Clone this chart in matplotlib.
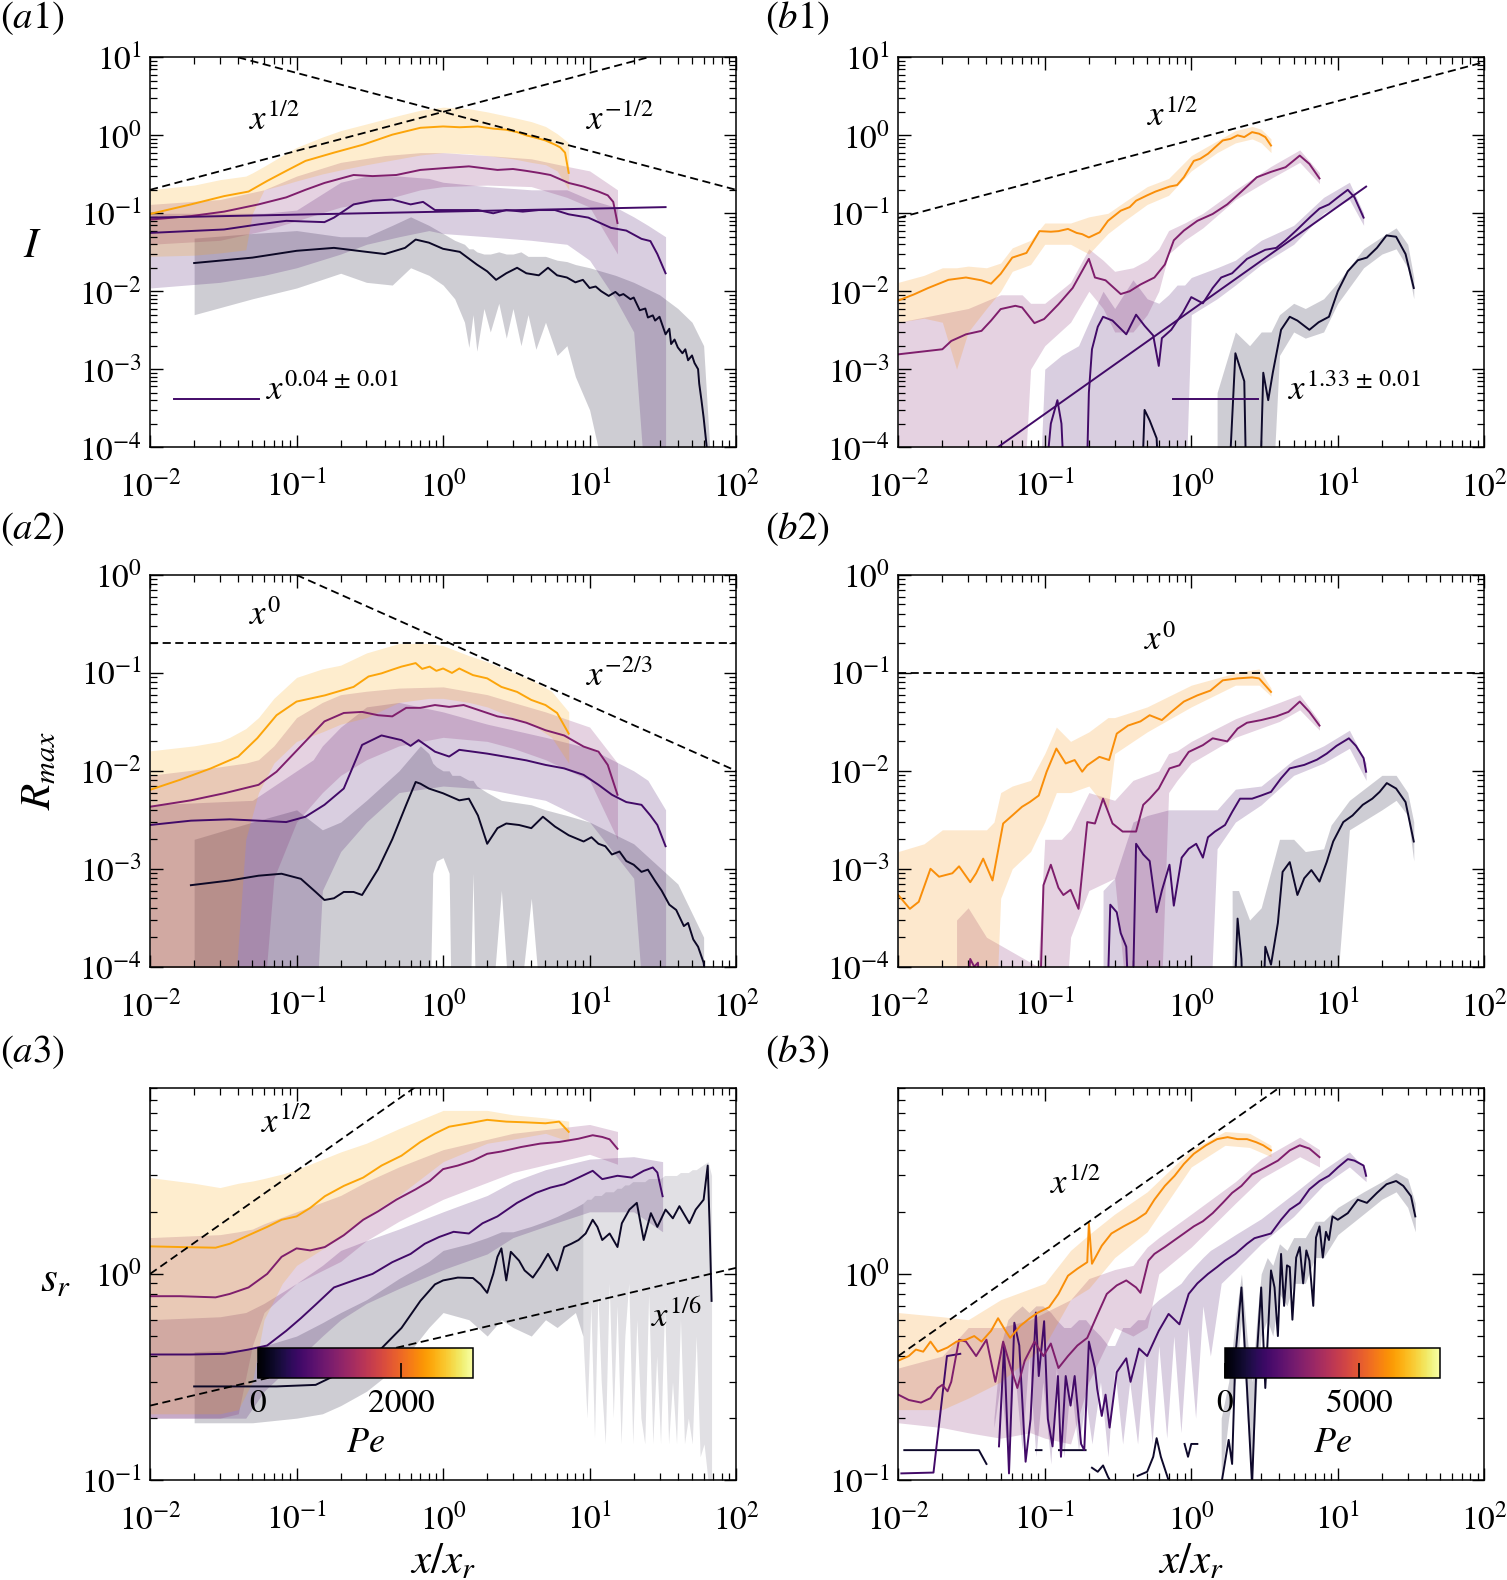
import numpy as np
import matplotlib
matplotlib.use('Agg')
import matplotlib.pyplot as plt
from matplotlib import cm
from matplotlib.colors import Normalize
from matplotlib.ticker import LogLocator, NullFormatter

plt.rcParams['font.family'] = ['STIXGeneral', 'Liberation Serif', 'DejaVu Serif']
plt.rcParams['mathtext.fontset'] = 'stix'
plt.rcParams['axes.linewidth'] = 1.1

nan = np.nan
OFF = 1e-5  # below the axis, used where a band or curve leaves the plot

# Peclet number of each run (orange, magenta, purple, black)
PE_A = [2400, 1050, 600, 200]
PE_B = [6000, 2800, 1600, 600]
PE_MAX_A = 3000
PE_MAX_B = 8000

# ---------------- (a1) I, left column ----------------
A1_OR_X = [0.01, 0.019, 0.032, 0.047, 0.063, 0.085, 0.115, 0.18, 0.285, 0.45, 0.7, 1.0, 1.3, 1.73, 2.2, 2.7, 3.2, 3.7, 4.4, 5.0, 5.8, 6.3, 6.8, 7.2]
A1_OR_Y = [0.098, 0.13, 0.166, 0.19, 0.26, 0.35, 0.47, 0.6, 0.76, 1.02, 1.25, 1.3, 1.27, 1.3, 1.22, 1.18, 1.1, 1.0, 0.92, 0.86, 0.76, 0.7, 0.6, 0.33]
A1_OR_BX = [0.01, 0.02, 0.03, 0.045, 0.05, 0.06, 0.08, 0.1, 0.15, 0.2, 0.3, 0.5, 0.7, 1.0, 1.5, 2.0, 3.0, 4.0, 5.0, 6.0, 7.2]
A1_OR_UP = [0.2, 0.23, 0.27, 0.3, 0.33, 0.4, 0.55, 0.7, 0.95, 1.15, 1.4, 1.8, 2.1, 2.3, 2.2, 2.0, 1.7, 1.5, 1.3, 1.05, 0.8]
A1_OR_LO = [0.028, 0.029, 0.031, 0.034, 0.1, 0.2, 0.23, 0.26, 0.32, 0.36, 0.42, 0.5, 0.56, 0.6, 0.58, 0.55, 0.5, 0.45, 0.42, 0.35, 0.2]

A1_MG_X = [0.01, 0.019, 0.032, 0.055, 0.085, 0.115, 0.155, 0.245, 0.33, 0.48, 0.7, 1.02, 1.5, 2.35, 3.0, 3.7, 4.5, 5.4, 7.2, 9.1, 11.5, 13.3, 14.5, 15.5]
A1_MG_Y = [0.083, 0.092, 0.105, 0.13, 0.16, 0.2, 0.245, 0.31, 0.30, 0.31, 0.36, 0.38, 0.40, 0.36, 0.37, 0.35, 0.33, 0.31, 0.245, 0.22, 0.19, 0.17, 0.14, 0.075]
A1_MG_BX = [0.01, 0.03, 0.06, 0.1, 0.2, 0.4, 0.7, 1.0, 2.0, 4.0, 7.0, 10.0, 15.5]
A1_MG_UP = [0.13, 0.15, 0.2, 0.3, 0.45, 0.55, 0.6, 0.6, 0.55, 0.5, 0.4, 0.35, 0.2]
A1_MG_LO = [0.04, 0.045, 0.06, 0.08, 0.12, 0.15, 0.2, 0.22, 0.23, 0.22, 0.16, 0.12, 0.03]

A1_DP_X = [0.01, 0.032, 0.055, 0.085, 0.155, 0.18, 0.245, 0.33, 0.45, 0.6, 0.73, 0.88, 1.28, 1.73, 2.2, 2.7, 3.5, 4.5, 5.8, 7.2, 9.8, 14, 17.8, 22.6, 26, 29, 33]
A1_DP_Y = [0.056, 0.062, 0.072, 0.08, 0.077, 0.088, 0.13, 0.145, 0.15, 0.13, 0.14, 0.11, 0.11, 0.11, 0.1, 0.11, 0.105, 0.11, 0.11, 0.097, 0.088, 0.065, 0.06, 0.047, 0.044, 0.03, 0.017]
A1_DP_BX = [0.01, 0.03, 0.06, 0.1, 0.2, 0.3, 0.5, 0.8, 1.0, 2.0, 4.0, 7.0, 10, 15, 20, 25, 33]
A1_DP_UP = [0.1, 0.1, 0.1, 0.11, 0.25, 0.3, 0.3, 0.28, 0.25, 0.22, 0.2, 0.2, 0.15, 0.12, 0.09, 0.07, 0.05]
A1_DP_LO = [0.011, 0.013, 0.016, 0.02, 0.03, 0.04, 0.05, 0.06, 0.055, 0.05, 0.045, 0.04, 0.025, 0.008, 0.003, OFF, OFF]

A1_BK_X = [0.02, 0.05, 0.1, 0.18, 0.3, 0.4, 0.55, 0.65, 0.8, 1.0, 1.3, 1.7, 2.0, 2.3, 2.7, 3.2, 3.7, 4.5, 5.2, 6.0,
           7.0, 8.0, 9.0, 10, 11, 12, 13.5, 15, 16, 17, 19, 20, 22, 24, 25, 27, 28, 30, 33, 35,
           36, 38, 40, 43, 45, 47, 50, 52, 55, 56, 58, 60, 63, 66]
A1_BK_Y = [0.023, 0.027, 0.033, 0.036, 0.032, 0.030, 0.036, 0.046, 0.042, 0.035, 0.032, 0.022, 0.018, 0.014, 0.017, 0.020, 0.017, 0.016, 0.020, 0.016,
           0.015, 0.013, 0.014, 0.011, 0.0115, 0.010, 0.0087, 0.0098, 0.0088, 0.0092, 0.0079, 0.0083, 0.0057, 0.0060, 0.0046, 0.0049, 0.0042, 0.0047, 0.0028, 0.0033,
           0.0021, 0.0024, 0.0019, 0.0016, 0.0018, 0.0013, 0.0015, 0.0012, 0.0010, 6.5e-4, 4e-4, 2.4e-4, 1e-4, 3e-5]
A1_BK_BX = [0.02, 0.05, 0.1, 0.2, 0.3, 0.45, 0.6, 0.8, 1.0, 1.2, 1.4, 1.5, 1.6, 1.7, 1.9, 2.1, 2.4, 2.7, 3.0, 3.4,
            3.8, 4.3, 5.0, 6.0, 7.0, 8.0, 10, 15, 20, 30, 40, 50, 60, 66]
A1_BK_UP = [0.048, 0.055, 0.06, 0.05, 0.05, 0.07, 0.09, 0.07, 0.055, 0.045, 0.04, 0.035, 0.035, 0.032, 0.03, 0.03, 0.032, 0.03, 0.03, 0.032,
            0.028, 0.028, 0.028, 0.025, 0.024, 0.022, 0.02, 0.016, 0.013, 0.009, 0.006, 0.004, 0.002, 1e-4]
A1_BK_LO = [0.005, 0.008, 0.011, 0.017, 0.013, 0.012, 0.02, 0.016, 0.012, 0.008, 0.004, 0.0019, 0.005, 0.0017, 0.006, 0.003, 0.007, 0.0025, 0.006, 0.002,
            0.005, 0.0018, 0.004, 0.0015, 0.002, 0.0008, 0.0003, OFF, OFF, OFF, OFF, OFF, OFF, OFF]

# ---------------- (b1) I, right column ----------------
B1_OR_X = [0.01, 0.0128, 0.016, 0.022, 0.029, 0.037, 0.043, 0.05, 0.06, 0.075, 0.092, 0.11, 0.124, 0.144, 0.165, 0.18, 0.2, 0.237, 0.27, 0.33,
           0.38, 0.42, 0.5, 0.57, 0.71, 0.8, 0.89, 1.04, 1.15, 1.3, 1.45, 1.64, 1.85, 2.07, 2.3, 2.6, 2.9, 3.2, 3.5]
B1_OR_Y = [0.0076, 0.0091, 0.011, 0.014, 0.015, 0.0138, 0.0125, 0.0167, 0.027, 0.031, 0.059, 0.058, 0.059, 0.063, 0.056, 0.054, 0.049, 0.057, 0.08, 0.108,
           0.12, 0.145, 0.17, 0.19, 0.22, 0.23, 0.29, 0.47, 0.5, 0.58, 0.7, 0.86, 0.9, 1.0, 0.95, 1.1, 1.05, 0.95, 0.74]
B1_OR_BX = [0.01, 0.015, 0.02, 0.025, 0.03, 0.04, 0.05, 0.06, 0.08, 0.1, 0.15, 0.2, 0.27, 0.35, 0.5, 0.7, 1.0, 1.5, 2.0, 2.6, 3.0, 3.5]
B1_OR_UP = [0.013, 0.016, 0.02, 0.02, 0.021, 0.02, 0.023, 0.036, 0.045, 0.075, 0.075, 0.09, 0.1, 0.14, 0.22, 0.28, 0.55, 0.85, 1.15, 1.3, 1.2, 0.9]
B1_OR_LO = [0.004, 0.0045, 0.004, 0.001, 0.003, 0.006, 0.01, 0.018, 0.022, 0.04, 0.04, 0.03, 0.055, 0.08, 0.13, 0.17, 0.35, 0.6, 0.8, 0.9, 0.8, 0.6]

B1_MG_X = [0.01, 0.02, 0.023, 0.029, 0.037, 0.043, 0.05, 0.063, 0.07, 0.085, 0.099, 0.124, 0.155, 0.2, 0.22, 0.26, 0.33, 0.38, 0.45, 0.56,
           0.66, 0.76, 0.89, 1.1, 1.4, 1.76, 2.2, 2.8, 3.5, 4.4, 5.5, 6.4, 7.5]
B1_MG_Y = [0.00155, 0.0018, 0.0023, 0.0028, 0.0031, 0.0042, 0.0059, 0.0065, 0.0062, 0.0039, 0.0044, 0.0068, 0.011, 0.026, 0.015, 0.0138, 0.0092, 0.01, 0.0122, 0.015,
           0.022, 0.045, 0.06, 0.08, 0.098, 0.13, 0.19, 0.29, 0.34, 0.39, 0.55, 0.43, 0.28]
B1_MG_BX = [0.01, 0.03, 0.05, 0.07, 0.08, 0.1, 0.15, 0.2, 0.25, 0.3, 0.4, 0.5, 0.6, 0.7, 0.9, 1.2, 2.0, 3.5, 5.5, 7.5]
B1_MG_UP = [0.004, 0.006, 0.009, 0.009, 0.007, 0.007, 0.013, 0.035, 0.025, 0.018, 0.02, 0.025, 0.035, 0.06, 0.075, 0.1, 0.2, 0.4, 0.65, 0.33]
B1_MG_LO = [OFF, OFF, OFF, OFF, 0.001, 0.002, 0.004, 0.01, 0.006, 0.003, 0.003, 0.005, 0.01, 0.03, 0.045, 0.065, 0.15, 0.28, 0.45, 0.24]

B1_DP_X = [0.095, 0.11, 0.122, 0.13, 0.14, 0.19, 0.2, 0.21, 0.23, 0.25, 0.29, 0.36, 0.42, 0.48, 0.55, 0.6, 0.63, 0.73, 0.88, 1.0,
           1.2, 1.4, 1.6, 1.9, 2.4, 2.8, 3.2, 3.8, 4.4, 5.2, 6.5, 7.5, 8.7, 10, 11.7, 13, 15]
B1_DP_Y = [OFF, 2e-4, 4e-4, 2e-4, OFF, OFF, 5e-4, 0.0018, 0.0035, 0.0047, 0.0042, 0.0028, 0.005, 0.0036, 0.0027, 0.0011, 0.0025, 0.0032, 0.0054, 0.0084,
           0.007, 0.011, 0.015, 0.017, 0.026, 0.03, 0.034, 0.036, 0.045, 0.06, 0.09, 0.115, 0.13, 0.16, 0.2, 0.16, 0.088]
B1_DP_BX = [0.09, 0.1, 0.13, 0.17, 0.2, 0.25, 0.3, 0.4, 0.5, 0.6, 0.7, 0.8, 0.9, 1.0, 1.5, 2.0, 3.0, 5.0, 8.0, 12, 15]
B1_DP_UP = [OFF, 0.001, 0.0015, 0.002, 0.004, 0.01, 0.006, 0.014, 0.008, 0.007, 0.009, 0.012, 0.012, 0.015, 0.02, 0.025, 0.045, 0.07, 0.16, 0.25, 0.1]
B1_DP_LO = [OFF, OFF, OFF, OFF, OFF, OFF, OFF, OFF, OFF, OFF, OFF, OFF, OFF, 0.005, 0.008, 0.012, 0.022, 0.04, 0.1, 0.15, 0.07]

B1_BK_X = [0.45, 0.48, 0.52, 0.58, 0.62, 1.75, 2.0, 2.3, 2.4, 2.9, 3.1, 3.35, 3.6, 4.1, 4.7, 5.3, 6.4, 7.4, 8.7, 10,
           11.7, 13.7, 15.8, 18.5, 21.5, 25, 29, 33]
B1_BK_Y = [OFF, 3e-4, 2.2e-4, 1.3e-4, OFF, OFF, 0.0016, 7e-4, OFF, OFF, 9e-4, 4e-4, 9e-4, 0.0032, 0.0047, 0.0042, 0.0032, 0.004, 0.0047, 0.01,
           0.018, 0.025, 0.027, 0.036, 0.052, 0.05, 0.03, 0.011]
B1_BK_BX = [1.5, 2.0, 2.5, 3.0, 3.5, 4.0, 5.0, 6.0, 8.0, 10, 15, 20, 25, 30, 33]
B1_BK_UP = [0.0005, 0.003, 0.002, 0.003, 0.003, 0.005, 0.007, 0.006, 0.008, 0.013, 0.035, 0.05, 0.065, 0.04, 0.015]
B1_BK_LO = [OFF, OFF, OFF, OFF, OFF, 0.0015, 0.003, 0.0025, 0.003, 0.007, 0.02, 0.03, 0.035, 0.02, 0.008]

# ---------------- (a2) R_max, left column ----------------
A2_OR_X = [0.01, 0.016, 0.026, 0.04, 0.054, 0.073, 0.1, 0.156, 0.245, 0.31, 0.38, 0.45, 0.52, 0.65, 0.72, 0.81, 0.9, 1.0, 1.15, 1.29,
           1.6, 2.0, 2.5, 3.2, 4.0, 5.0, 6.0, 7.2]
A2_OR_Y = [0.0064, 0.0081, 0.0106, 0.014, 0.0216, 0.037, 0.051, 0.059, 0.072, 0.092, 0.099, 0.108, 0.116, 0.126, 0.11, 0.116, 0.105, 0.111, 0.1, 0.111,
           0.095, 0.088, 0.072, 0.064, 0.053, 0.047, 0.039, 0.024]
A2_OR_BX = [0.01, 0.02, 0.03, 0.035, 0.045, 0.055, 0.07, 0.1, 0.15, 0.2, 0.3, 0.5, 0.8, 1.0, 1.5, 2.0, 3.0, 4.0, 5.5, 7.2]
A2_OR_UP = [0.016, 0.018, 0.02, 0.022, 0.027, 0.035, 0.055, 0.09, 0.11, 0.12, 0.16, 0.2, 0.2, 0.19, 0.15, 0.13, 0.1, 0.085, 0.065, 0.04]
A2_OR_LO = [OFF, OFF, OFF, OFF, 0.002, 0.006, 0.012, 0.02, 0.025, 0.03, 0.035, 0.05, 0.055, 0.055, 0.05, 0.045, 0.035, 0.03, 0.022, 0.012]

A2_MG_X = [0.01, 0.019, 0.032, 0.055, 0.073, 0.115, 0.155, 0.21, 0.28, 0.36, 0.45, 0.56, 0.7, 0.88, 1.1, 1.38, 1.73, 2.35, 2.95, 3.7,
           5.0, 6.7, 9.1, 11.5, 13.3, 15.5]
A2_MG_Y = [0.0043, 0.005, 0.0059, 0.0072, 0.0098, 0.02, 0.032, 0.039, 0.04, 0.037, 0.036, 0.044, 0.044, 0.047, 0.045, 0.047, 0.042, 0.036, 0.034, 0.031,
           0.026, 0.023, 0.0177, 0.0157, 0.0115, 0.0057]
A2_MG_BX = [0.01, 0.03, 0.045, 0.055, 0.07, 0.1, 0.15, 0.2, 0.3, 0.5, 1.0, 2.0, 3.0, 5.0, 10, 15.5]
A2_MG_UP = [0.009, 0.011, 0.012, 0.013, 0.018, 0.035, 0.05, 0.06, 0.065, 0.07, 0.072, 0.06, 0.05, 0.04, 0.028, 0.012]
A2_MG_LO = [OFF, OFF, OFF, OFF, 0.0008, 0.003, 0.006, 0.009, 0.013, 0.018, 0.022, 0.02, 0.017, 0.013, 0.008, 0.002]

A2_DP_X = [0.01, 0.019, 0.035, 0.055, 0.085, 0.115, 0.155, 0.21, 0.28, 0.38, 0.52, 0.6, 0.68, 0.88, 1.1, 1.29, 1.6, 2.0, 2.7, 3.7,
           5.0, 6.7, 9.1, 11.5, 14.2, 17.8, 22.6, 26, 29, 33]
A2_DP_Y = [0.0028, 0.0031, 0.0032, 0.0031, 0.003, 0.0034, 0.0045, 0.0066, 0.0184, 0.023, 0.0206, 0.018, 0.0206, 0.0157, 0.014, 0.0164, 0.0157, 0.015, 0.0139, 0.0128,
           0.0115, 0.0106, 0.0091, 0.0072, 0.0057, 0.0048, 0.0045, 0.0035, 0.0028, 0.0017]
A2_DP_BX = [0.01, 0.05, 0.08, 0.12, 0.13, 0.15, 0.2, 0.3, 0.5, 1.0, 2.0, 5.0, 10, 20, 25, 33]
A2_DP_UP = [0.0045, 0.005, 0.008, 0.012, 0.013, 0.018, 0.028, 0.045, 0.05, 0.04, 0.03, 0.022, 0.017, 0.01, 0.008, 0.004]
A2_DP_LO = [OFF, OFF, OFF, OFF, OFF, 0.0006, 0.0015, 0.003, 0.006, 0.007, 0.0065, 0.005, 0.003, 0.0008, OFF, OFF]

A2_BK_X = [0.019, 0.035, 0.055, 0.079, 0.107, 0.135, 0.155, 0.18, 0.21, 0.245, 0.28, 0.36, 0.45, 0.56, 0.65, 0.7, 0.8, 1.0, 1.29, 1.5,
           1.73, 2.0, 2.35, 2.7, 3.3, 4.0, 4.8, 5.8, 7.2, 9.1, 10.3, 11.5, 12.8, 14.2, 16, 17.8, 20, 22.6, 25, 28,
           31, 35, 39, 44, 47, 51, 55, 60, 64]
A2_BK_Y = [6.8e-4, 7.6e-4, 8.5e-4, 8.9e-4, 7.9e-4, 5.8e-4, 4.8e-4, 5e-4, 5.8e-4, 5.8e-4, 5.4e-4, 9.9e-4, 0.002, 0.0045, 0.0077, 0.0074, 0.0066, 0.0059, 0.005, 0.0052,
           0.0035, 0.0018, 0.0026, 0.0029, 0.0028, 0.0026, 0.0034, 0.0027, 0.0022, 0.0019, 0.0021, 0.0018, 0.0017, 0.0014, 0.0015, 0.0012, 0.0011, 9.3e-4, 9.8e-4, 7.5e-4,
           6e-4, 4.3e-4, 3.8e-4, 2.6e-4, 2.8e-4, 1.9e-4, 1.6e-4, 1.1e-4, 5e-5]
A2_BK_BX = [0.02, 0.05, 0.1, 0.15, 0.2, 0.3, 0.5, 0.7, 0.8, 0.85, 0.9, 1.0, 1.1, 1.15, 1.3, 1.5, 1.6, 1.7, 2.0, 2.5,
            3.0, 4.0, 5.0, 7.0, 10, 20, 40, 60]
A2_BK_UP = [0.002, 0.003, 0.004, 0.0025, 0.003, 0.005, 0.01, 0.018, 0.015, 0.012, 0.011, 0.01, 0.01, 0.009, 0.009, 0.008, 0.008, 0.007, 0.006, 0.005,
            0.0048, 0.0045, 0.004, 0.0035, 0.003, 0.0018, 0.0007, 0.0002]
A2_BK_LO = [OFF, OFF, OFF, OFF, OFF, OFF, OFF, OFF, OFF, 0.0009, 0.0012, 0.0013, 0.0009, OFF, OFF, OFF, 0.0009, OFF, OFF, 0.0006,
            OFF, 0.0005, OFF, OFF, OFF, OFF, OFF, OFF]

# ---------------- (b2) R_max, right column ----------------
B2_OR_X = [0.01, 0.012, 0.0138, 0.0166, 0.019, 0.0234, 0.026, 0.031, 0.034, 0.038, 0.044, 0.052, 0.06, 0.07, 0.079, 0.091, 0.103, 0.12, 0.139, 0.16,
           0.18, 0.195, 0.236, 0.275, 0.31, 0.37, 0.45, 0.52, 0.63, 0.73, 0.89, 1.1, 1.35, 1.64, 2.07, 2.6, 2.9, 3.5]
B2_OR_Y = [5.4e-4, 3.9e-4, 4.6e-4, 1.0e-3, 8.3e-4, 9.0e-4, 1.06e-3, 7.3e-4, 9e-4, 1.27e-3, 7.6e-4, 2.9e-3, 3.5e-3, 4.3e-3, 4.8e-3, 5.6e-3, 9.8e-3, 0.0169, 0.0119, 0.0129,
           0.0098, 0.0114, 0.0139, 0.0129, 0.024, 0.029, 0.032, 0.037, 0.033, 0.04, 0.051, 0.059, 0.066, 0.084, 0.088, 0.09, 0.088, 0.064]
B2_OR_BX = [0.01, 0.015, 0.02, 0.03, 0.04, 0.045, 0.05, 0.06, 0.08, 0.1, 0.12, 0.15, 0.2, 0.27, 0.3, 0.5, 1.0, 2.0, 2.9, 3.5]
B2_OR_UP = [0.0015, 0.0018, 0.0025, 0.0025, 0.0025, 0.003, 0.006, 0.007, 0.008, 0.015, 0.028, 0.02, 0.025, 0.035, 0.035, 0.045, 0.075, 0.1, 0.11, 0.07]
B2_OR_LO = [OFF, OFF, OFF, OFF, OFF, OFF, 0.0005, 0.001, 0.0015, 0.003, 0.006, 0.006, 0.007, 0.004, 0.015, 0.025, 0.045, 0.075, 0.075, 0.058]

B2_MG_X = [0.027, 0.031, 0.033, 0.035, 0.038, 0.09, 0.098, 0.11, 0.124, 0.134, 0.15, 0.17, 0.195, 0.22, 0.25, 0.29, 0.34, 0.42, 0.47, 0.52,
           0.6, 0.71, 0.83, 0.96, 1.2, 1.4, 1.76, 2.07, 2.4, 3.0, 3.8, 4.6, 5.5, 6.4, 7.5]
B2_MG_Y = [OFF, 1.2e-4, 1e-4, 1.1e-4, OFF, OFF, 6.8e-4, 1.1e-3, 6.4e-4, 5.4e-4, 6.1e-4, 3.9e-4, 3.0e-3, 2.9e-3, 5.2e-3, 2.9e-3, 2.4e-3, 2.4e-3, 4.5e-3, 5.2e-3,
           6.6e-3, 0.0106, 0.0114, 0.0156, 0.0183, 0.0215, 0.02, 0.027, 0.031, 0.033, 0.036, 0.04, 0.051, 0.04, 0.029]
B2_MG_BX = [0.025, 0.03, 0.04, 0.09, 0.1, 0.13, 0.15, 0.2, 0.3, 0.4, 0.6, 0.7, 0.8, 1.0, 2.0, 4.0, 5.5, 7.5]
B2_MG_UP = [3e-4, 4e-4, 2e-4, 1e-4, 0.002, 0.002, 0.0025, 0.006, 0.005, 0.008, 0.01, 0.015, 0.016, 0.02, 0.034, 0.05, 0.06, 0.032]
B2_MG_LO = [OFF, OFF, OFF, OFF, OFF, OFF, 2e-4, 6e-4, 8e-4, OFF, OFF, 0.006, 0.008, 0.012, 0.022, 0.032, 0.042, 0.026]

B2_DP_X = [0.26, 0.28, 0.31, 0.33, 0.36, 0.39, 0.42, 0.47, 0.52, 0.58, 0.63, 0.71, 0.76, 0.86, 0.96, 1.08, 1.2, 1.3, 1.45, 1.7,
           1.9, 2.15, 2.6, 3.0, 3.5, 4.1, 4.7, 5.9, 7.2, 8.4, 9.8, 11.9, 13.3, 15, 15.6]
B2_DP_Y = [OFF, 4.3e-4, 3.6e-4, 2.2e-4, 1.6e-4, OFF, 1.8e-3, 1.4e-3, 1.2e-3, 3.6e-4, 6e-4, 1.1e-3, 4.2e-4, 1.3e-3, 1.6e-3, 1.8e-3, 1.3e-3, 2.1e-3, 2.4e-3, 2.8e-3,
           3.8e-3, 5.2e-3, 5.2e-3, 5.6e-3, 6.1e-3, 8.4e-3, 0.0106, 0.0115, 0.013, 0.015, 0.018, 0.0215, 0.018, 0.0135, 0.0098]
B2_DP_BX = [0.25, 0.3, 0.4, 0.5, 0.7, 0.9, 1.0, 1.2, 1.3, 1.5, 2.0, 3.0, 5.0, 8.0, 12, 15.6]
B2_DP_UP = [6e-4, 8e-4, 0.003, 0.0035, 0.004, 0.004, 0.004, 0.004, 0.004, 0.004, 0.0065, 0.007, 0.013, 0.018, 0.026, 0.012]
B2_DP_LO = [OFF, OFF, OFF, OFF, OFF, OFF, OFF, OFF, OFF, 0.0016, 0.003, 0.0045, 0.009, 0.012, 0.017, 0.008]

B2_BK_X = [1.9, 2.07, 2.2, 2.3, 3.0, 3.2, 3.5, 3.9, 4.2, 4.7, 5.3, 5.9, 6.6, 7.5, 8.4, 9.3, 10.9, 12.6, 14.8, 17.2,
           19.3, 21.6, 25, 29, 33]
B2_BK_Y = [OFF, 3.1e-4, 1.2e-4, OFF, OFF, 1.6e-4, 1.05e-4, 2.8e-4, 9.3e-4, 1.17e-3, 5.4e-4, 8e-4, 9.7e-4, 7.4e-4, 1.17e-3, 1.9e-3, 3.0e-3, 3.5e-3, 4.5e-3, 5.2e-3,
           6.1e-3, 7.5e-3, 6.6e-3, 4.8e-3, 1.9e-3]
B2_BK_BX = [1.9, 2.1, 2.5, 3.0, 4.0, 5.0, 6.0, 8.0, 9.0, 12, 20, 25, 30, 33]
B2_BK_UP = [6e-4, 6e-4, 3e-4, 4e-4, 0.002, 0.002, 0.0015, 0.0016, 0.0028, 0.005, 0.009, 0.009, 0.006, 0.003]
B2_BK_LO = [OFF, OFF, OFF, OFF, OFF, OFF, OFF, OFF, OFF, 0.0025, 0.004, 0.005, 0.0035, 0.0012]

# ---------------- (a3) s_r, left column ----------------
A3_OR_X = [0.01, 0.016, 0.028, 0.035, 0.047, 0.063, 0.079, 0.1, 0.124, 0.156, 0.21, 0.285, 0.38, 0.52, 0.7, 0.88, 1.1, 1.5, 2.0, 2.7,
           3.6, 5.0, 6.2, 7.2]
A3_OR_Y = [1.36, 1.35, 1.34, 1.40, 1.54, 1.69, 1.83, 1.9, 2.09, 2.38, 2.67, 2.93, 3.35, 3.74, 4.36, 4.79, 5.17, 5.37, 5.58, 5.47,
           5.43, 5.37, 5.47, 4.88]
A3_OR_BX = [0.01, 0.02, 0.03, 0.04, 0.05, 0.06, 0.08, 0.1, 0.2, 0.3, 0.5, 1.0, 2.0, 3.0, 5.0, 7.2]
A3_OR_UP = [2.93, 2.75, 2.62, 2.75, 2.82, 2.9, 3.05, 3.2, 3.9, 4.3, 5.06, 6.2, 6.2, 5.9, 5.7, 5.5]
A3_OR_LO = [0.21, 0.21, 0.21, 0.22, 0.3, 0.6, 0.9, 1.1, 1.5, 1.9, 2.4, 3.5, 4.3, 4.5, 4.8, 4.4]

A3_MG_X = [0.01, 0.016, 0.028, 0.035, 0.047, 0.063, 0.079, 0.1, 0.124, 0.156, 0.21, 0.285, 0.36, 0.48, 0.65, 0.81, 1.0, 1.26, 1.6, 2.0,
           2.5, 3.4, 4.6, 6.2, 8.4, 10.5, 12.2, 13.7, 15.5]
A3_MG_Y = [0.78, 0.78, 0.77, 0.80, 0.86, 1.0, 1.21, 1.33, 1.30, 1.35, 1.54, 1.83, 2.01, 2.29, 2.57, 2.82, 3.22, 3.35, 3.54, 3.82,
           3.92, 4.12, 4.28, 4.36, 4.52, 4.70, 4.61, 4.49, 4.04]
A3_MG_BX = [0.01, 0.03, 0.04, 0.05, 0.06, 0.1, 0.2, 0.3, 0.5, 1.0, 3.0, 10, 15.5]
A3_MG_UP = [1.5, 1.55, 1.6, 1.65, 1.75, 2.0, 2.4, 2.8, 3.3, 4.0, 4.8, 5.3, 4.9]
A3_MG_LO = [0.2, 0.2, 0.21, 0.45, 0.65, 0.9, 1.15, 1.45, 1.8, 2.3, 3.1, 3.8, 3.4]

A3_DP_X = [0.01, 0.019, 0.032, 0.047, 0.063, 0.085, 0.107, 0.135, 0.18, 0.245, 0.33, 0.45, 0.6, 0.75, 0.94, 1.18, 1.5, 1.86, 2.35, 3.2,
           4.3, 5.4, 6.7, 8.4, 10.5, 12.2, 15.5, 19.4, 23.4, 27, 29, 31.5]
A3_DP_Y = [0.407, 0.407, 0.41, 0.43, 0.45, 0.53, 0.61, 0.71, 0.86, 0.93, 1.0, 1.14, 1.25, 1.40, 1.51, 1.6, 1.57, 1.76, 1.9, 2.21,
           2.47, 2.62, 2.72, 2.93, 3.16, 2.88, 2.99, 2.93, 3.16, 3.28, 3.1, 2.38]
A3_DP_BX = [0.01, 0.03, 0.045, 0.06, 0.1, 0.15, 0.2, 0.3, 0.5, 1.0, 2.0, 3.0, 5.0, 10, 20, 31.5]
A3_DP_UP = [0.6, 0.62, 0.65, 0.72, 0.9, 1.1, 1.3, 1.45, 1.65, 2.0, 2.4, 2.8, 3.2, 3.6, 3.7, 3.5]
A3_DP_LO = [0.2, 0.2, 0.2, 0.27, 0.38, 0.5, 0.6, 0.72, 0.85, 1.05, 1.25, 1.5, 1.7, 2.0, 2.0, 1.6]

A3_BK_X = [0.02, 0.04, 0.073, 0.135, 0.18, 0.26, 0.38, 0.52, 0.7, 0.88, 1.0, 1.26, 1.6, 1.8, 2.0, 2.2, 2.35, 2.5, 2.7, 2.9,
           3.3, 3.6, 4.1, 4.6, 5.2, 6.0, 6.7, 7.5, 8.4, 9.4, 10.5, 11.3, 12.2, 13.7, 15.5, 16.6, 18.7, 21, 23.4, 26.2,
           29, 33, 37, 41, 48, 53, 60, 64, 66, 68]
A3_BK_Y = [0.285, 0.285, 0.285, 0.29, 0.32, 0.375, 0.436, 0.547, 0.74, 0.89, 0.93, 0.96, 0.955, 0.89, 0.81, 1.0, 1.21, 1.33, 0.93, 1.28,
           1.16, 1.04, 0.96, 1.08, 1.25, 1.04, 1.35, 1.40, 1.46, 1.57, 1.83, 1.69, 1.46, 1.57, 1.35, 1.76, 2.05, 2.21, 1.46, 1.97,
           1.69, 2.05, 1.86, 2.13, 1.76, 2.05, 2.29, 3.35, 1.69, 0.74]
A3_BK_BX = [0.02, 0.05, 0.1, 0.15, 0.2, 0.3, 0.5, 0.8, 1.0, 1.5, 2.0, 2.5, 3.0, 4.0, 5.0, 6.0, 8.0, 9.0]
A3_BK_UP = [0.42, 0.43, 0.5, 0.58, 0.65, 0.75, 0.95, 1.15, 1.3, 1.4, 1.5, 1.6, 1.6, 1.7, 1.8, 1.9, 2.1, 2.2]
A3_BK_LO = [0.19, 0.19, 0.2, 0.21, 0.23, 0.27, 0.36, 0.55, 0.65, 0.6, 0.5, 0.6, 0.55, 0.5, 0.6, 0.55, 0.65, 0.5]
# thin streaky part of the same band beyond x = 9
A3_BK_SX = [9.0, 9.6, 10.2, 10.8, 11.4, 12.0, 12.8, 13.6, 14.5, 15.4, 16.4, 17.4, 18.5, 19.7, 21, 22.4, 23.8, 25.3, 27, 28.7,
            30.5, 32.5, 34.6, 36.8, 39.2, 41.7, 44.4, 47.2, 50.2, 53.4, 56.8, 60.4, 64.3, 68]
A3_BK_SU = [2.2, 2.3, 2.3, 2.4, 2.4, 2.4, 2.5, 2.5, 2.5, 2.6, 2.6, 2.7, 2.7, 2.8, 2.8, 2.8, 2.8, 2.9, 2.9, 2.9,
            2.9, 3.0, 3.0, 3.0, 3.0, 3.1, 3.1, 3.1, 3.2, 3.2, 3.3, 3.4, 3.5, 3.0]
A3_BK_SL = [0.5, 0.2, 0.7, 0.16, 0.8, 0.3, 0.15, 0.9, 0.2, 0.7, 0.15, 0.5, 0.9, 0.15, 0.6, 0.2, 0.15, 0.8, 0.15, 0.4,
            0.15, 0.7, 0.15, 0.3, 0.15, 0.6, 0.15, 0.2, 0.15, 0.5, 0.13, 0.15, 0.1, 0.1]

# ---------------- (b3) s_r, right column ----------------
B3_OR_X = [0.01, 0.0118, 0.0132, 0.0148, 0.0166, 0.0186, 0.0217, 0.025, 0.029, 0.033, 0.037, 0.043, 0.048, 0.054, 0.058, 0.068, 0.079, 0.09, 0.107, 0.124,
           0.144, 0.167, 0.195, 0.2, 0.21, 0.245, 0.285, 0.345, 0.42, 0.49, 0.56, 0.66, 0.77, 0.89, 1.04, 1.26, 1.5, 1.77, 2.07, 2.4,
           2.77, 3.1, 3.5]
B3_OR_Y = [0.38, 0.40, 0.43, 0.42, 0.47, 0.42, 0.44, 0.47, 0.48, 0.50, 0.47, 0.53, 0.61, 0.53, 0.49, 0.56, 0.61, 0.65, 0.69, 0.80,
           0.98, 1.06, 1.14, 1.76, 1.12, 1.37, 1.57, 1.70, 1.83, 1.97, 2.29, 2.67, 2.99, 3.41, 3.82, 4.2, 4.5, 4.6, 4.5, 4.5,
           4.35, 4.2, 3.97]
B3_OR_BX = [0.01, 0.02, 0.03, 0.05, 0.1, 0.15, 0.2, 0.3, 0.5, 1.0, 1.7, 2.5, 3.5]
B3_OR_UP = [0.65, 0.62, 0.6, 0.75, 0.9, 1.3, 1.55, 1.95, 2.5, 4.0, 4.9, 4.8, 4.2]
B3_OR_LO = [0.22, 0.22, 0.25, 0.3, 0.45, 0.75, 0.85, 1.2, 1.6, 3.3, 4.2, 4.1, 3.7]

B3_MG_X = [0.01, 0.0118, 0.0143, 0.0166, 0.0186, 0.02, 0.0217, 0.023, 0.026, 0.029, 0.034, 0.040, 0.046, 0.052, 0.058, 0.065, 0.073, 0.085, 0.098, 0.11,
           0.124, 0.144, 0.167, 0.195, 0.23, 0.265, 0.31, 0.36, 0.42, 0.45, 0.51, 0.56, 0.66, 0.77, 0.89, 1.04, 1.2, 1.4, 1.64, 1.9,
           2.2, 2.6, 3.2, 3.9, 4.7, 5.5, 6.4, 7.5]
B3_MG_Y = [0.26, 0.245, 0.238, 0.25, 0.28, 0.29, 0.27, 0.30, 0.48, 0.47, 0.40, 0.48, 0.30, 0.47, 0.36, 0.28, 0.38, 0.47, 0.40, 0.46,
           0.35, 0.40, 0.45, 0.49, 0.64, 0.80, 0.88, 0.93, 0.86, 0.81, 1.16, 1.25, 1.35, 1.46, 1.57, 1.70, 1.80, 1.97, 2.21, 2.47,
           2.67, 3.04, 3.28, 3.54, 3.97, 4.2, 4.05, 3.68]
B3_MG_BX = [0.01, 0.02, 0.03, 0.05, 0.08, 0.1, 0.15, 0.2, 0.3, 0.4, 0.5, 0.6, 1.0, 2.0, 3.0, 5.5, 7.5]
B3_MG_UP = [0.35, 0.4, 0.55, 0.55, 0.6, 0.65, 0.75, 0.95, 1.05, 1.1, 1.35, 1.5, 1.95, 2.8, 3.6, 4.6, 4.0]
B3_MG_LO = [0.19, 0.18, 0.17, 0.16, 0.17, 0.16, 0.15, 0.3, 0.55, 0.5, 0.55, 1.0, 1.35, 2.2, 2.9, 3.7, 3.3]

B3_DP_X = [0.0105, 0.0174, 0.0215, 0.0265, 0.03, 0.0487, 0.0528, 0.057, 0.062, 0.067, 0.074, 0.08, 0.087, 0.091, 0.099, 0.105, 0.113, 0.123, 0.129, 0.139,
           0.15, 0.16, 0.177, 0.186, 0.2, 0.22, 0.228, 0.245, 0.26, 0.277, 0.31, 0.36, 0.385, 0.44, 0.5, 0.6, 0.7, 0.83, 0.96, 1.1,
           1.3, 1.5, 1.7, 2.0, 2.4, 2.7, 3.5, 4.1, 4.7, 5.5, 6.4, 7.5, 8.7, 10, 11.7, 13, 15, 15.6]
B3_DP_Y = [0.108, 0.109, 0.40, 0.41, nan, 0.146, 0.45, 0.108, 0.58, 0.45, 0.123, 0.198, 0.65, 0.32, 0.59, 0.198, 0.146, 0.32, 0.13, 0.32,
           0.23, 0.32, 0.15, 0.14, 0.47, 0.35, 0.277, 0.205, 0.26, 0.18, 0.334, 0.39, 0.3, 0.435, 0.40, 0.53, 0.64, 0.57, 0.8, 0.9,
           1.0, 1.08, 1.16, 1.25, 1.40, 1.49, 1.57, 1.83, 2.05, 2.21, 2.57, 2.82, 2.99, 3.28, 3.6, 3.54, 3.35, 2.99]
B3_DP_BX = [0.045, 0.05, 0.056, 0.062, 0.07, 0.078, 0.087, 0.097, 0.11, 0.12, 0.135, 0.15, 0.17, 0.19, 0.21, 0.24, 0.27, 0.3, 0.34, 0.38,
            0.43, 0.48, 0.54, 0.6, 0.68, 0.76, 0.85, 0.95, 1.07, 1.2, 1.35, 1.6, 2.0, 3.0, 5.0, 8.0, 12, 15.6]
B3_DP_UP = [0.2, 0.45, 0.6, 0.65, 0.7, 0.65, 0.7, 0.7, 0.65, 0.6, 0.55, 0.55, 0.6, 0.6, 0.55, 0.5, 0.45, 0.45, 0.55, 0.55,
            0.6, 0.6, 0.7, 0.75, 0.8, 0.85, 0.9, 1.0, 1.1, 1.2, 1.3, 1.4, 1.55, 1.85, 2.45, 3.2, 3.9, 3.2]
B3_DP_LO = [0.18, 0.3, 0.13, 0.35, 0.14, 0.4, 0.13, 0.3, 0.12, 0.35, 0.13, 0.3, 0.14, 0.25, 0.15, 0.3, 0.13, 0.35, 0.15, 0.3,
            0.15, 0.4, 0.15, 0.45, 0.16, 0.5, 0.17, 0.55, 0.2, 0.7, 0.4, 0.9, 1.05, 1.4, 1.9, 2.7, 3.3, 2.8]

B3_BK_X = [0.011, 0.0355, 0.04, nan, 0.087, 0.095, nan, 0.125, 0.19, nan, 0.21, 0.23, 0.25, 0.27, 0.29, nan, 0.43, 0.5, 0.55, 0.58,
           0.62, 0.7, nan, 0.9, 0.95, 1.0, 1.1, nan, 1.6, 1.8, 1.9, 2.0, 2.2, 2.4, 2.6, 2.8, 3.0, 3.2, 3.5, 3.7,
           3.9, 4.1, 4.3, 4.5, 4.7, 4.9, 5.2, 5.5, 5.8, 6.1, 6.4, 6.8, 7.1, 7.5, 7.9, 8.3, 8.7, 9.2, 10, 11.7,
           13.7, 15.8, 18.5, 21.5, 25, 28, 31.6, 33.8]
B3_BK_Y = [0.14, 0.14, 0.12, nan, 0.14, 0.14, nan, 0.14, 0.14, nan, 0.115, 0.11, 0.118, 0.104, 0.095, nan, 0.105, 0.11, 0.13, 0.16,
           0.13, 0.1, nan, 0.15, 0.13, 0.15, 0.15, nan, 0.095, 0.157, 0.12, 0.4, 0.86, 0.28, 0.095, 0.4, 0.86, 0.28, 1.04, 0.86,
           0.5, 1.25, 0.7, 1.1, 1.08, 0.6, 1.2, 1.35, 0.9, 1.3, 1.16, 0.7, 1.5, 1.7, 1.2, 1.6, 1.46, 1.9, 1.83, 1.97,
           2.29, 2.21, 2.47, 2.72, 2.82, 2.67, 2.38, 1.9]
B3_BK_BX = [1.6, 1.8, 2.0, 2.2, 2.4, 2.6, 2.8, 3.0, 3.3, 3.6, 4.0, 4.5, 5.0, 6.0, 7.0, 8.0, 10, 15, 20, 25, 30, 33.8]
B3_BK_UP = [0.2, 0.3, 0.6, 1.0, 0.5, 0.3, 0.6, 1.0, 1.2, 1.1, 1.4, 1.3, 1.5, 1.5, 1.8, 1.8, 2.1, 2.5, 2.8, 3.1, 2.9, 2.2]
B3_BK_LO = [0.1, 0.2, 0.3, 0.6, 0.2, 0.1, 0.3, 0.5, 0.6, 0.5, 0.8, 0.7, 0.9, 0.9, 1.2, 1.2, 1.55, 1.95, 2.3, 2.5, 2.1, 1.6]

# guide lines (end points) and power-law fits
A1_HALF = ([0.01, 25], [0.2, 10])
A1_MHALF = ([0.04, 100], [10, 0.2])
A1_FIT = ([0.01, 33], [0.088, 0.12])
B1_HALF = ([0.01, 100], [0.087, 8.7])
B1_FIT = ([0.045, 15.6], [9.2e-5, 0.22])
A2_ZERO = ([0.01, 100], [0.2, 0.2])
A2_M23 = ([0.1, 100], [1.0, 0.01])
B2_ZERO = ([0.01, 100], [0.1, 0.1])
A3_HALF = ([0.01, 0.64], [1.0, 8.0])
A3_SIXTH = ([0.01, 100], [0.23, 1.07])
B3_HALF = ([0.01, 4.0], [0.4, 8.0])

W, H = 1507, 1580
S = 1.007  # layout measured on a slightly reduced view of the page
fig = plt.figure(figsize=(W / 100, H / 100), dpi=100)


def px_axes(x0, y0, x1, y1):
    x0, y0, x1, y1 = x0 * S, y0 * S, x1 * S, y1 * S
    return fig.add_axes([x0 / W, 1 - y1 / H, (x1 - x0) / W, (y1 - y0) / H])


def px_text(x, y, s, **kw):
    fig.text(x * S / W, 1 - y * S / H, s, **kw)


def style(ax, ylim):
    ax.set_xscale('log')
    ax.set_yscale('log')
    ax.set_xlim(1e-2, 1e2)
    ax.set_ylim(*ylim)
    for axis in (ax.xaxis, ax.yaxis):
        axis.set_major_locator(LogLocator(base=10, numticks=12))
        axis.set_minor_locator(LogLocator(base=10, subs=np.arange(2, 10), numticks=40))
        axis.set_minor_formatter(NullFormatter())
    ax.tick_params(which='both', direction='in', top=True, right=True, labelsize=24)
    ax.tick_params(axis='x', which='major', pad=17)
    ax.tick_params(axis='y', which='major', pad=6)
    ax.tick_params(which='major', length=9, width=1.0)
    ax.tick_params(which='minor', length=5, width=0.9)


def draw(ax, curves, pe, pe_max):
    cols = [cm.inferno(p / pe_max) for p in pe]
    pairs = list(zip(curves, cols))[::-1]
    for (x, y, bx, bu, bl), c in pairs:
        ax.fill_between(bx, bl, bu, color=c, alpha=0.2, lw=0)
    for (x, y, bx, bu, bl), c in pairs:
        ax.plot(x, y, color=c, lw=1.4)
    return cols


def guide(ax, line):
    ax.plot(line[0], line[1], 'k--', lw=1.3, dashes=(4.5, 2.5))


TXT = 25

# ---- row 1 ----
ax = px_axes(149, 57, 731, 444)
style(ax, (1e-4, 1e1))
cols = draw(ax, [(A1_OR_X, A1_OR_Y, A1_OR_BX, A1_OR_UP, A1_OR_LO),
                 (A1_MG_X, A1_MG_Y, A1_MG_BX, A1_MG_UP, A1_MG_LO),
                 (A1_DP_X, A1_DP_Y, A1_DP_BX, A1_DP_UP, A1_DP_LO),
                 (A1_BK_X, A1_BK_Y, A1_BK_BX, A1_BK_UP, A1_BK_LO)], PE_A, PE_MAX_A)
ax.plot(*A1_FIT, color=cols[2], lw=1.4)
ax.plot([0.0146, 0.055], [4.2e-4, 4.2e-4], color=cols[2], lw=1.4)
ax.text(0.062, 5.2e-4, r'$x^{0.04\,\pm\,0.01}$', fontsize=25, va='center')
guide(ax, A1_HALF)
guide(ax, A1_MHALF)
ax.text(0.071, 1.5, r'$x^{1/2}$', fontsize=TXT, ha='center', va='center')
ax.text(16, 1.5, r'$x^{-1/2}$', fontsize=TXT, ha='center', va='center')

ax = px_axes(892, 57, 1474, 444)
style(ax, (1e-4, 1e1))
cols = draw(ax, [(B1_OR_X, B1_OR_Y, B1_OR_BX, B1_OR_UP, B1_OR_LO),
                 (B1_MG_X, B1_MG_Y, B1_MG_BX, B1_MG_UP, B1_MG_LO),
                 (B1_DP_X, B1_DP_Y, B1_DP_BX, B1_DP_UP, B1_DP_LO),
                 (B1_BK_X, B1_BK_Y, B1_BK_BX, B1_BK_UP, B1_BK_LO)], PE_B, PE_MAX_B)
ax.plot(*B1_FIT, color=cols[2], lw=1.4)
ax.plot([0.75, 2.85], [4.2e-4, 4.2e-4], color=cols[2], lw=1.4)
ax.text(4.6, 5.2e-4, r'$x^{1.33\,\pm\,0.01}$', fontsize=25, va='center')
guide(ax, B1_HALF)
ax.text(0.75, 1.7, r'$x^{1/2}$', fontsize=TXT, ha='center', va='center')

# ---- row 2 ----
ax = px_axes(149, 571, 731, 960)
style(ax, (1e-4, 1e0))
draw(ax, [(A2_OR_X, A2_OR_Y, A2_OR_BX, A2_OR_UP, A2_OR_LO),
          (A2_MG_X, A2_MG_Y, A2_MG_BX, A2_MG_UP, A2_MG_LO),
          (A2_DP_X, A2_DP_Y, A2_DP_BX, A2_DP_UP, A2_DP_LO),
          (A2_BK_X, A2_BK_Y, A2_BK_BX, A2_BK_UP, A2_BK_LO)], PE_A, PE_MAX_A)
guide(ax, A2_ZERO)
guide(ax, A2_M23)
ax.text(0.061, 0.38, r'$x^{0}$', fontsize=TXT, ha='center', va='center')
ax.text(16, 0.09, r'$x^{-2/3}$', fontsize=TXT, ha='center', va='center')

ax = px_axes(892, 571, 1474, 960)
style(ax, (1e-4, 1e0))
draw(ax, [(B2_OR_X, B2_OR_Y, B2_OR_BX, B2_OR_UP, B2_OR_LO),
          (B2_MG_X, B2_MG_Y, B2_MG_BX, B2_MG_UP, B2_MG_LO),
          (B2_DP_X, B2_DP_Y, B2_DP_BX, B2_DP_UP, B2_DP_LO),
          (B2_BK_X, B2_BK_Y, B2_BK_BX, B2_BK_UP, B2_BK_LO)], PE_B, PE_MAX_B)
guide(ax, B2_ZERO)
ax.text(0.61, 0.21, r'$x^{0}$', fontsize=TXT, ha='center', va='center')

# ---- row 3 ----
ax = px_axes(149, 1080, 731, 1470)
style(ax, (1e-1, 8))
cols = draw(ax, [(A3_OR_X, A3_OR_Y, A3_OR_BX, A3_OR_UP, A3_OR_LO),
                 (A3_MG_X, A3_MG_Y, A3_MG_BX, A3_MG_UP, A3_MG_LO),
                 (A3_DP_X, A3_DP_Y, A3_DP_BX, A3_DP_UP, A3_DP_LO),
                 (A3_BK_X, A3_BK_Y, A3_BK_BX, A3_BK_UP, A3_BK_LO)], PE_A, PE_MAX_A)
ax.fill_between(A3_BK_SX, A3_BK_SL, A3_BK_SU, color=cols[3], alpha=0.12, lw=0)
guide(ax, A3_HALF)
guide(ax, A3_SIXTH)
ax.text(0.086, 5.3, r'$x^{1/2}$', fontsize=TXT, ha='center', va='center')
ax.text(39, 0.61, r'$x^{1/6}$', fontsize=TXT, ha='center', va='center')

ax = px_axes(892, 1080, 1474, 1470)
style(ax, (1e-1, 8))
draw(ax, [(B3_OR_X, B3_OR_Y, B3_OR_BX, B3_OR_UP, B3_OR_LO),
          (B3_MG_X, B3_MG_Y, B3_MG_BX, B3_MG_UP, B3_MG_LO),
          (B3_DP_X, B3_DP_Y, B3_DP_BX, B3_DP_UP, B3_DP_LO),
          (B3_BK_X, B3_BK_Y, B3_BK_BX, B3_BK_UP, B3_BK_LO)], PE_B, PE_MAX_B)
guide(ax, B3_HALF)
ax.text(0.162, 2.7, r'$x^{1/2}$', fontsize=TXT, ha='center', va='center')


def pe_bar(x0, x1, pe_max, ticks):
    cax = px_axes(x0, 1339, x1, 1368)
    sm = cm.ScalarMappable(norm=Normalize(0, pe_max), cmap='inferno')
    cb = fig.colorbar(sm, cax=cax, orientation='horizontal', ticks=ticks)
    cax.tick_params(direction='in', length=11, width=1.2, labelsize=24, pad=9)
    cb.outline.set_linewidth(1.1)
    cb.set_label(r'$Pe$', fontsize=26, labelpad=5)


pe_bar(256, 470, PE_MAX_A, [0, 2000])
pe_bar(1216, 1430, PE_MAX_B, [0, 5000])

# panel tags and axis titles
LAB = 28
for tag, xp, yp in [('1', 0, 18), ('2', 0, 525), ('3', 0, 1045)]:
    px_text(xp, yp, r'($a$' + tag + ')', fontsize=LAB, va='center')
    px_text(xp + 760, yp, r'($b$' + tag + ')', fontsize=LAB, va='center')

px_text(32, 245, r'$I$', fontsize=31, ha='center', va='center')
px_text(40, 765, r'$R_{max}$', fontsize=31, ha='center', va='center', rotation=90)
px_text(55, 1272, r'$s_r$', fontsize=31, ha='center', va='center')
px_text(440, 1552, r'$x/x_r$', fontsize=31, ha='center', va='center')
px_text(1183, 1552, r'$x/x_r$', fontsize=31, ha='center', va='center')

fig.savefig('out.png', dpi=100)
